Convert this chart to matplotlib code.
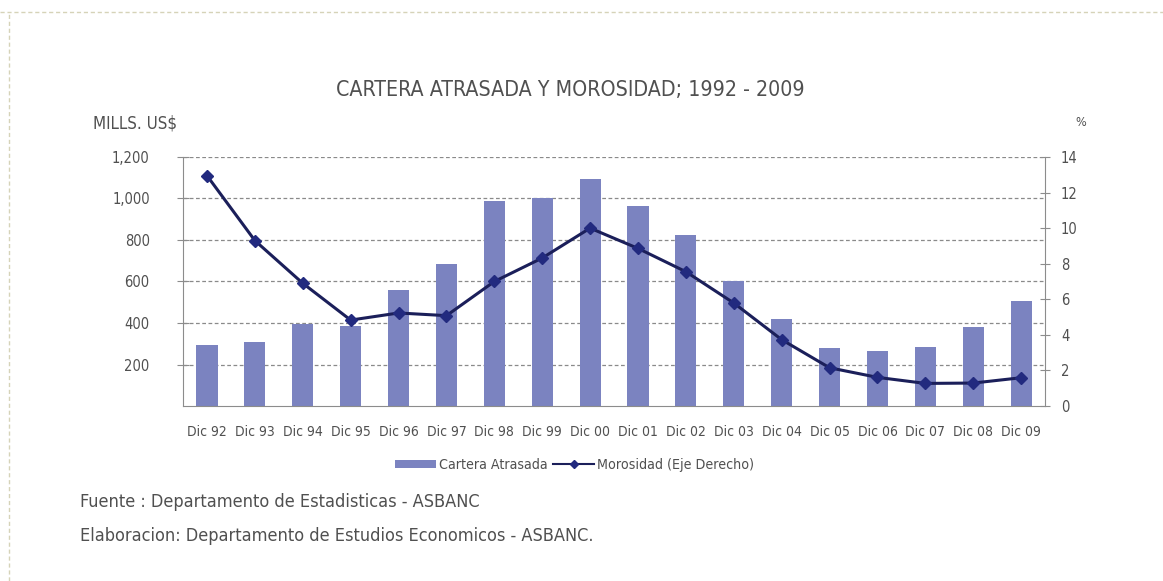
import matplotlib
matplotlib.use("Agg")
import matplotlib.pyplot as plt
from matplotlib.lines import Line2D
from matplotlib.patches import Patch
import numpy as np

# data
periodos = ['Dic 92', 'Dic 93', 'Dic 94', 'Dic 95', 'Dic 96', 'Dic 97', 'Dic 98', 'Dic 99', 'Dic 00',
            'Dic 01', 'Dic 02', 'Dic 03', 'Dic 04', 'Dic 05', 'Dic 06', 'Dic 07', 'Dic 08', 'Dic 09']
cartera = [294, 310, 395, 387, 560, 683, 989, 1002, 1094,
           965, 822, 602, 419, 280, 264, 283, 379, 507]
morosidad = [12.95, 9.3, 6.9, 4.83, 5.23, 5.08, 7.0, 8.32, 10.0,
             8.86, 7.55, 5.79, 3.73, 2.15, 1.61, 1.27, 1.29, 1.59]
ticks_izq = [200, 400, 600, 800, 1000, 1200]
ticks_der = [0, 2, 4, 6, 8, 10, 12, 14]

plt.rcParams['font.family'] = ['DejaVu Sans']
plt.rcParams['font.stretch'] = 'condensed'
gris = '#505050'
eje = '#8c8c8c'
barra_color = '#7b83c0'
linea_color = '#1b1f5a'
marca_color = '#222a7f'

fig = plt.figure(figsize=(11.63, 5.81), dpi=100)
ax = fig.add_axes([0.1574, 0.3012, 0.7412, 0.4286])
x = np.arange(len(periodos))

ax.bar(x, cartera, width=0.44, color=barra_color, zorder=2)
ax.set_ylim(0, 1200)
ax.set_xlim(-0.5, 17.5)
ax.set_yticks(ticks_izq)
ax.set_yticklabels(['{:,}'.format(v) for v in ticks_izq])
ax.set_xticks(x)
ax.set_xticklabels(periodos)
ax.yaxis.grid(True, linestyle=(0, (3, 2)), color='#8a8a8a', linewidth=0.9, zorder=0)
ax.set_axisbelow(True)
ax.tick_params(axis='y', direction='inout', length=8, color=eje, labelsize=10.5,
               labelcolor=gris, pad=20)
ax.tick_params(axis='x', length=0, labelsize=10, labelcolor=gris, pad=14)
for lado in ['top', 'right']:
    ax.spines[lado].set_visible(False)
for lado in ['left', 'bottom']:
    ax.spines[lado].set_color(eje)

ax2 = ax.twinx()
ax2.plot(x, morosidad, color=linea_color, linewidth=2.2, marker='D', markersize=6.5,
         markerfacecolor=marca_color, markeredgecolor=marca_color, zorder=3)
ax2.set_ylim(0, 14)
ax2.set_yticks(ticks_der)
ax2.tick_params(axis='y', direction='inout', length=7, color=eje, labelsize=10.5,
                labelcolor=gris, pad=8)
ax2.spines['top'].set_visible(False)
ax2.spines['left'].set_visible(False)
ax2.spines['bottom'].set_visible(False)
ax2.spines['right'].set_color(eje)

fig.text(0.49, 0.845, 'CARTERA ATRASADA Y MOROSIDAD; 1992 - 2009', ha='center', va='center',
         fontsize=15.3, color=gris)
fig.text(0.080, 0.788, 'MILLS. US$', ha='left', va='center', fontsize=12.2, color=gris)
fig.text(0.929, 0.79, '%', ha='center', va='center', fontsize=9, color=gris)

handles = [Patch(facecolor=barra_color, edgecolor='none'),
           Line2D([], [], color=linea_color, linewidth=1.5, marker='D', markersize=4,
                  markerfacecolor=marca_color, markeredgecolor=marca_color)]
fig.legend(handles, ['Cartera Atrasada', 'Morosidad (Eje Derecho)'], loc='center',
           bbox_to_anchor=(0.494, 0.2), ncol=2, frameon=False, fontsize=10.2,
           labelcolor=gris, handlelength=2.9, handleheight=0.45, columnspacing=0.4,
           handletextpad=0.2)

fig.text(0.069, 0.136, 'Fuente : Departamento de Estadisticas - ASBANC', ha='left', va='center',
         fontsize=13, color=gris)
fig.text(0.069, 0.077, 'Elaboracion: Departamento de Estudios Economicos - ASBANC.', ha='left',
         va='center', fontsize=13, color=gris)

# dashed frame at top and left
fig.add_artist(Line2D([0, 1], [0.979, 0.979], transform=fig.transFigure, color='#d6d3b8',
                      linestyle=(0, (3, 2)), linewidth=1))
fig.add_artist(Line2D([0.008, 0.008], [0, 0.979], transform=fig.transFigure, color='#d6d3b8',
                      linestyle=(0, (3, 2)), linewidth=1))

fig.savefig('out.png', dpi=100)
